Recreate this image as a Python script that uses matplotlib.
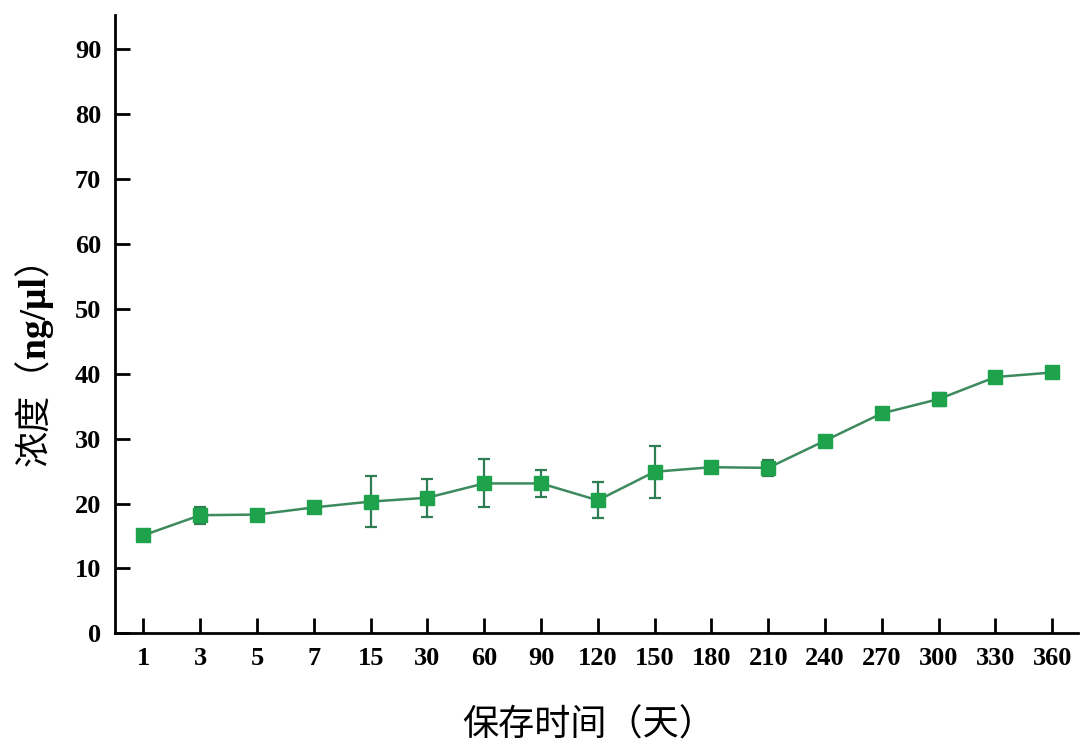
import matplotlib
matplotlib.use("Agg")
import matplotlib.pyplot as plt
import numpy as np

# storage time (days) and concentration (ng/ul)
days = ["1", "3", "5", "7", "15", "30", "60", "90", "120", "150", "180",
        "210", "240", "270", "300", "330", "360"]
conc = [15.1, 18.2, 18.3, 19.4, 20.3, 20.9, 23.1, 23.1, 20.5, 24.9, 25.6,
        25.5, 29.7, 33.9, 36.1, 39.5, 40.2]
err = [0.5, 1.3, 0.5, 0.5, 3.9, 2.9, 3.7, 2.1, 2.8, 4.0, 0.6,
       1.2, 0.5, 0.6, 1.0, 0.7, 0.6]
yticks = [0, 10, 20, 30, 40, 50, 60, 70, 80, 90]

cjk = ["Noto Sans CJK SC", "DejaVu Sans"]
serif = "Liberation Serif"

fig = plt.figure(figsize=(10.8, 7.53), dpi=100)
ax = fig.add_axes([0.1065, 0.159, 0.8915, 0.821])

x = np.arange(len(days))
ax.errorbar(x, conc, yerr=err, fmt="none", ecolor="#2f7d52", elinewidth=1.6,
            capsize=4.5, capthick=1.6, zorder=2)
ax.plot(x, conc, color="#3d8a5e", lw=1.8, zorder=3)
ax.plot(x, conc, ls="none", marker="s", ms=9.5, color="#1ea34c", zorder=4)

ax.set_xlim(-0.5, 16.45)
ax.set_ylim(0, 95.3)
ax.set_xticks(x)
ax.set_xticklabels(days)
ax.set_yticks(yticks)

for s in ["top", "right"]:
    ax.spines[s].set_visible(False)
for s in ["left", "bottom"]:
    ax.spines[s].set_linewidth(2)

ax.tick_params(axis="both", direction="in", width=2, length=11, pad=10)
for lab in ax.get_xticklabels() + ax.get_yticklabels():
    lab.set_fontfamily(serif)
    lab.set_fontweight("bold")
    lab.set_fontsize(19)

fig.text(0.545, 0.013, "保存时间（天）", family=cjk, fontsize=26,
         ha="center", va="bottom")

# y label is mixed: chinese in sans, unit in bold serif, stacked bottom-up
fig.canvas.draw()
r = fig.canvas.get_renderer()
H = fig.bbox.height
pieces = [("浓度（", cjk, "normal", 26), ("ng/μl", serif, "bold", 27),
          ("）", cjk, "normal", 26)]
ypos = 466.0
for txt, fam, wt, sz in pieces:
    t = fig.text(35 / 1080, 1 - ypos / H, txt, family=fam, fontweight=wt,
                 fontsize=sz, rotation=90, ha="center", va="bottom")
    bb = t.get_window_extent(r)
    ypos -= bb.height

fig.savefig("out.png", dpi=100)
